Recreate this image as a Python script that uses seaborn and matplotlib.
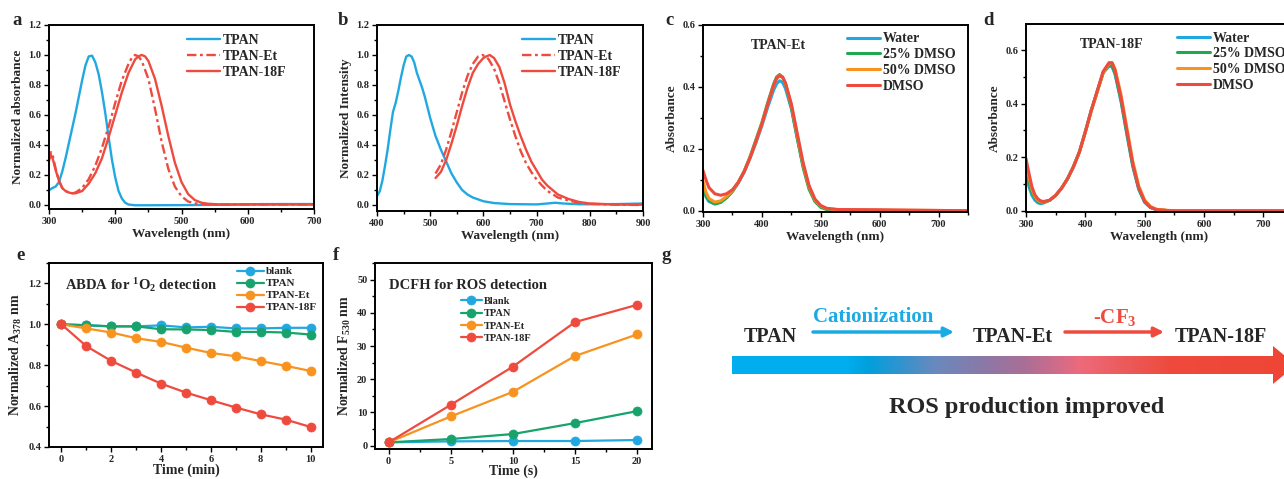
import numpy as np
import matplotlib
matplotlib.use('Agg')
import matplotlib.pyplot as plt
from matplotlib.colors import LinearSegmentedColormap
from matplotlib.patches import Polygon
from matplotlib.ticker import MultipleLocator
import seaborn as sns

W, H = 1284, 479

BLUE = '#22A8E1'
RED = '#EE4B3E'
GREEN = '#17A36B'
GREEN_C = '#1FA84E'
ORANGE = '#F7931E'

# ---------------- a: normalized absorbance ----------------
wl_a_tpan = [300, 305, 310, 315, 320, 325, 330, 335, 340, 345, 350, 355, 360, 365, 370, 375, 380,
             385, 390, 395, 400, 405, 410, 415, 420, 430, 450, 500, 550, 600, 650, 700]
abs_a_tpan = [0.095, 0.11, 0.12, 0.15, 0.22, 0.31, 0.41, 0.51, 0.61, 0.72, 0.83, 0.93, 0.99, 0.995,
              0.95, 0.87, 0.75, 0.61, 0.45, 0.30, 0.18, 0.09, 0.04, 0.012, 0.0, -0.005, -0.005,
              -0.004, -0.002, 0.002, 0.003, 0.003]
wl_a_et = [300, 303, 306, 310, 315, 320, 325, 330, 335, 340, 350, 360, 370, 380, 390, 400, 410, 420,
           425, 430, 435, 440, 450, 460, 470, 480, 490, 500, 510, 520, 540, 600, 700]
abs_a_et = [0.29, 0.35, 0.32, 0.24, 0.16, 0.11, 0.09, 0.08, 0.075, 0.08, 0.11, 0.17, 0.26, 0.38, 0.52,
            0.68, 0.83, 0.94, 0.98, 1.0, 0.99, 0.96, 0.84, 0.64, 0.42, 0.24, 0.12, 0.055, 0.02, 0.008,
            0.0, 0.0, 0.0]
wl_a_18f = [300, 303, 306, 310, 315, 320, 325, 330, 335, 340, 350, 360, 370, 380, 390, 400, 410, 420,
            430, 435, 440, 445, 450, 460, 470, 480, 490, 500, 510, 520, 530, 540, 560, 600, 700]
abs_a_18f = [0.31, 0.33, 0.30, 0.23, 0.16, 0.11, 0.09, 0.08, 0.075, 0.075, 0.09, 0.14, 0.21, 0.31,
             0.45, 0.60, 0.75, 0.88, 0.97, 0.99, 1.0, 0.99, 0.96, 0.84, 0.66, 0.46, 0.28, 0.15, 0.07,
             0.03, 0.012, 0.005, 0.0, 0.0, 0.0]

# ---------------- b: normalized emission ----------------
wl_b_tpan = [400, 405, 410, 415, 420, 425, 430, 435, 440, 445, 450, 455, 460, 465, 470, 475, 480, 485,
             490, 500, 510, 520, 530, 540, 550, 560, 570, 580, 600, 620, 650, 700, 720, 735, 750, 780,
             800, 850, 900]
em_b_tpan = [0.06, 0.09, 0.16, 0.26, 0.37, 0.50, 0.62, 0.68, 0.76, 0.85, 0.93, 0.99, 1.0, 0.99, 0.95,
             0.88, 0.83, 0.78, 0.72, 0.58, 0.46, 0.37, 0.29, 0.21, 0.15, 0.10, 0.07, 0.05, 0.025,
             0.013, 0.006, 0.004, 0.01, 0.015, 0.01, 0.005, 0.005, 0.006, 0.01]
wl_b_et = [510, 520, 530, 540, 550, 560, 570, 580, 590, 598, 605, 610, 620, 630, 640, 650, 660, 670,
           680, 690, 700, 710, 720, 740, 760, 780, 800, 850, 900]
em_b_et = [0.21, 0.27, 0.37, 0.49, 0.62, 0.75, 0.86, 0.94, 0.99, 1.0, 0.99, 0.97, 0.91, 0.81, 0.69,
           0.57, 0.46, 0.36, 0.28, 0.22, 0.17, 0.13, 0.095, 0.05, 0.03, 0.015, 0.008, 0.002, 0.0]
wl_b_18f = [510, 520, 530, 540, 550, 560, 570, 580, 590, 600, 605, 612, 620, 630, 640, 650, 660, 670,
            680, 690, 700, 710, 720, 740, 760, 780, 800, 850, 900]
em_b_18f = [0.18, 0.22, 0.30, 0.41, 0.53, 0.66, 0.78, 0.88, 0.94, 0.98, 0.99, 1.0, 0.98, 0.92, 0.81,
            0.67, 0.56, 0.46, 0.37, 0.29, 0.23, 0.17, 0.13, 0.07, 0.04, 0.02, 0.01, 0.003, 0.002]

# ---------------- c: TPAN-Et in solvents ----------------
wl_c = [300, 305, 310, 320, 330, 340, 350, 360, 370, 380, 390, 400, 410, 420, 425, 430, 435, 440,
        450, 460, 470, 480, 490, 500, 510, 530, 600, 700, 750]
c_water = [0.075, 0.045, 0.03, 0.022, 0.028, 0.042, 0.062, 0.09, 0.125, 0.17, 0.22, 0.275, 0.335,
           0.39, 0.41, 0.42, 0.415, 0.395, 0.33, 0.235, 0.145, 0.075, 0.033, 0.013, 0.005, 0.002,
           0.001, 0.0, 0.0]
c_dmso25 = [0.08, 0.05, 0.033, 0.022, 0.027, 0.042, 0.063, 0.092, 0.128, 0.175, 0.23, 0.285, 0.35,
            0.41, 0.432, 0.44, 0.432, 0.41, 0.335, 0.235, 0.14, 0.07, 0.03, 0.011, 0.004, 0.001,
            0.001, 0.0, 0.0]
c_dmso50 = [0.095, 0.06, 0.04, 0.028, 0.032, 0.046, 0.065, 0.092, 0.127, 0.172, 0.225, 0.28, 0.345,
            0.405, 0.428, 0.437, 0.432, 0.412, 0.342, 0.245, 0.15, 0.078, 0.035, 0.015, 0.007, 0.003,
            0.002, 0.001, 0.0]
c_dmso = [0.13, 0.1, 0.075, 0.055, 0.05, 0.055, 0.068, 0.092, 0.127, 0.172, 0.225, 0.28, 0.345,
          0.405, 0.428, 0.436, 0.432, 0.413, 0.345, 0.25, 0.155, 0.082, 0.038, 0.017, 0.008, 0.004,
          0.003, 0.001, 0.0]

# ---------------- d: TPAN-18F in solvents ----------------
wl_d = [300, 305, 310, 315, 320, 325, 330, 340, 350, 360, 370, 380, 390, 400, 410, 420, 430, 440,
        445, 450, 460, 470, 480, 490, 500, 510, 520, 540, 560, 650, 750]
d_water = [0.14, 0.09, 0.058, 0.04, 0.03, 0.027, 0.03, 0.04, 0.058, 0.085, 0.12, 0.165, 0.22, 0.295,
           0.375, 0.445, 0.515, 0.54, 0.538, 0.51, 0.41, 0.285, 0.165, 0.08, 0.032, 0.012, 0.004,
           0.001, 0.0, 0.0, 0.0]
d_dmso25 = [0.16, 0.11, 0.07, 0.048, 0.036, 0.031, 0.032, 0.04, 0.058, 0.085, 0.12, 0.165, 0.22,
            0.295, 0.375, 0.445, 0.515, 0.545, 0.543, 0.515, 0.415, 0.29, 0.17, 0.083, 0.034, 0.013,
            0.005, 0.001, 0.0, 0.0, 0.0]
d_dmso50 = [0.18, 0.125, 0.08, 0.054, 0.04, 0.034, 0.034, 0.04, 0.058, 0.085, 0.12, 0.165, 0.22,
            0.293, 0.372, 0.443, 0.515, 0.55, 0.553, 0.53, 0.435, 0.31, 0.185, 0.093, 0.04, 0.016,
            0.006, 0.002, 0.0, 0.0, 0.0]
d_dmso = [0.195, 0.14, 0.09, 0.06, 0.045, 0.037, 0.035, 0.04, 0.058, 0.085, 0.12, 0.165, 0.22,
          0.295, 0.375, 0.447, 0.52, 0.553, 0.552, 0.525, 0.425, 0.30, 0.175, 0.087, 0.036, 0.014,
          0.005, 0.001, 0.0, 0.0, 0.0]

# ---------------- e: ABDA ----------------
t_e = [0, 1, 2, 3, 4, 5, 6, 7, 8, 9, 10]
e_blank = [1.0, 0.995, 0.99, 0.99, 0.995, 0.985, 0.988, 0.98, 0.98, 0.983, 0.983]
e_tpan = [1.0, 0.996, 0.99, 0.99, 0.976, 0.975, 0.972, 0.963, 0.963, 0.96, 0.95]
e_et = [1.0, 0.98, 0.96, 0.932, 0.914, 0.886, 0.86, 0.844, 0.82, 0.797, 0.772]
e_18f = [1.0, 0.893, 0.821, 0.764, 0.71, 0.666, 0.629, 0.593, 0.56, 0.534, 0.498]

# ---------------- f: DCFH ----------------
t_f = [0, 5, 10, 15, 20]
f_blank = [1.0, 1.3, 1.4, 1.4, 1.7]
f_tpan = [1.0, 2.0, 3.5, 6.8, 10.4]
f_et = [1.0, 8.8, 16.2, 27.0, 33.5]
f_18f = [1.0, 12.3, 23.8, 37.2, 42.4]

sns.set_theme(style='ticks')
plt.rcParams['font.family'] = ['Liberation Serif', 'DejaVu Serif']
plt.rcParams['font.weight'] = 'bold'
plt.rcParams['axes.labelweight'] = 'bold'
plt.rcParams['mathtext.fontset'] = 'custom'
plt.rcParams['mathtext.rm'] = 'Liberation Serif:bold'
plt.rcParams['mathtext.bf'] = 'Liberation Serif:bold'
plt.rcParams['mathtext.it'] = 'Liberation Serif:bold:italic'


def box(l, t, r, b):
    return [l / W, 1 - b / H, (r - l) / W, (b - t) / H]


def style(ax, xmaj, ymaj, xlim, ylim):
    ax.set_xlim(*xlim)
    ax.set_ylim(*ylim)
    ax.xaxis.set_major_locator(MultipleLocator(xmaj))
    ax.xaxis.set_minor_locator(MultipleLocator(xmaj / 2))
    ax.yaxis.set_major_locator(MultipleLocator(ymaj))
    ax.yaxis.set_minor_locator(MultipleLocator(ymaj / 2))
    ax.tick_params(which='both', direction='out', width=1.0, labelsize=7.5, pad=2,
                   top=False, right=False, color='black')
    ax.tick_params(which='major', length=3.5)
    ax.tick_params(which='minor', length=2)
    for s in ax.spines.values():
        s.set_visible(True)
        s.set_linewidth(1.4)
        s.set_color('black')


def legend(ax, x, y, size, hl=2.4, sp=0.2):
    ax.legend(loc='upper left', bbox_to_anchor=(x, y), frameon=False, borderaxespad=0, borderpad=0,
              handlelength=hl, handletextpad=0.2, labelspacing=sp,
              prop={'weight': 'bold', 'size': size})


fig = plt.figure(figsize=(W / 100, H / 100), dpi=100)

# a
ax = fig.add_axes(box(49, 25, 314, 209))
sns.lineplot(x=wl_a_tpan, y=abs_a_tpan, ax=ax, color=BLUE, lw=1.7, label='TPAN', sort=False)
sns.lineplot(x=wl_a_et, y=abs_a_et, ax=ax, color=RED, lw=1.7, label='TPAN-Et', sort=False,
             linestyle=(0, (4, 1.5, 1.2, 1.5)))
sns.lineplot(x=wl_a_18f, y=abs_a_18f, ax=ax, color=RED, lw=1.7, label='TPAN-18F', sort=False)
style(ax, 100, 0.2, (300, 700), (-0.03, 1.2))
ax.set_xlabel('Wavelength (nm)', fontsize=9.5, labelpad=2)
ax.set_ylabel('Normalized absorbance', fontsize=9.5, labelpad=3)
legend(ax, 0.52, 0.95, 10)

# b
ax = fig.add_axes(box(377, 25, 643, 211))
sns.lineplot(x=wl_b_tpan, y=em_b_tpan, ax=ax, color=BLUE, lw=1.7, label='TPAN', sort=False)
sns.lineplot(x=wl_b_et, y=em_b_et, ax=ax, color=RED, lw=1.7, label='TPAN-Et', sort=False,
             linestyle=(0, (4, 1.5, 1.2, 1.5)))
sns.lineplot(x=wl_b_18f, y=em_b_18f, ax=ax, color=RED, lw=1.7, label='TPAN-18F', sort=False)
style(ax, 100, 0.2, (400, 900), (-0.04, 1.2))
ax.set_xlabel('Wavelength (nm)', fontsize=9.5, labelpad=2)
ax.set_ylabel('Normalized Intensity', fontsize=9.5, labelpad=3)
legend(ax, 0.545, 0.95, 10)

# c and d
for rect, wl, ys, lim, name, lx, tx in [
        (box(703, 25, 968, 212), wl_c, [c_water, c_dmso25, c_dmso50, c_dmso], (-0.004, 0.6),
         'TPAN-Et', 0.543, 0.283),
        (box(1026, 24, 1293, 212), wl_d, [d_water, d_dmso25, d_dmso50, d_dmso], (-0.004, 0.697),
         'TPAN-18F', 0.566, 0.319)]:
    ax = fig.add_axes(rect)
    for yv, col, lab in zip(ys, [BLUE, GREEN_C, ORANGE, RED],
                            ['Water', '25% DMSO', '50% DMSO', 'DMSO']):
        sns.lineplot(x=wl, y=yv, ax=ax, color=col, lw=2.2, label=lab, sort=False)
    style(ax, 100, 0.2, (300, 750), lim)
    ax.set_xlabel('Wavelength (nm)', fontsize=9.5, labelpad=2)
    ax.set_ylabel('Absorbance', fontsize=9.5, labelpad=3)
    ax.text(tx, 0.89, name, transform=ax.transAxes, ha='center', va='center', fontsize=10)
    legend(ax, lx, 0.96, 10)

# e
ax = fig.add_axes(box(49, 263, 323, 447))
for yv, col, lab in zip([e_blank, e_tpan, e_et, e_18f], [BLUE, GREEN, ORANGE, RED],
                        ['blank', 'TPAN', 'TPAN-Et', 'TPAN-18F']):
    sns.lineplot(x=t_e, y=yv, ax=ax, color=col, lw=1.6, label=lab, marker='o', markersize=6.5,
                 markeredgecolor=col, markeredgewidth=0.5, sort=False)
style(ax, 2, 0.2, (-0.5, 10.5), (0.4, 1.3))
ax.set_xlabel('Time (min)', fontsize=10, labelpad=0)
ax.set_ylabel(r'Normalized A$_{\mathbf{378}}$ nm', fontsize=10, labelpad=3)
ax.text(0.06, 0.88, r'ABDA for $^{\mathbf{1}}$O$_{\mathbf{2}}$ detection', transform=ax.transAxes,
        ha='left', va='center', fontsize=10.5)
legend(ax, 0.686, 0.98, 8, hl=2.4, sp=0.2)

# f
ax = fig.add_axes(box(375, 263, 652, 449))
for yv, col, lab in zip([f_blank, f_tpan, f_et, f_18f], [BLUE, GREEN, ORANGE, RED],
                        ['Blank', 'TPAN', 'TPAN-Et', 'TPAN-18F']):
    sns.lineplot(x=t_f, y=yv, ax=ax, color=col, lw=1.6, label=lab, marker='o', markersize=6.5,
                 markeredgecolor=col, markeredgewidth=0.5, sort=False)
style(ax, 5, 10, (-1.1, 21.2), (-1, 55))
ax.set_xlabel('Time (s)', fontsize=10, labelpad=-1)
ax.set_ylabel(r'Normalized F$_{\mathbf{530}}$ nm', fontsize=10, labelpad=3)
ax.text(0.05, 0.88, 'DCFH for ROS detection', transform=ax.transAxes, ha='left', va='center',
        fontsize=10.5)
legend(ax, 0.31, 0.82, 7.5, hl=2.0, sp=0.3)

# g and panel letters, drawn in pixel coordinates
ax0 = fig.add_axes([0, 0, 1, 1], zorder=-1)
ax0.patch.set_visible(False)
grad = np.linspace(0, 1, 256).reshape(1, -1)
cmap = LinearSegmentedColormap.from_list('ros', [
    (0.0, '#00AEEF'), (0.2, '#00AEEF'), (0.24, '#00A0DC'), (0.30, '#3393CE'), (0.36, '#6A89BD'),
    (0.45, '#8C78A6'), (0.52, '#AA6F96'), (0.58, '#D26C8A'), (0.62, '#EE6A7A'), (0.70, '#EB5A5A'),
    (0.78, '#EE4A3D'), (1.0, '#EE4535')])
im = ax0.imshow(grad, extent=(732, 1296, 385, 345), cmap=cmap, aspect='auto')
arrow = Polygon([(732, 356), (1273, 356), (1273, 346), (1296, 365), (1273, 384), (1273, 374),
                 (732, 374)], closed=True, facecolor='none', edgecolor='none')
ax0.add_patch(arrow)
im.set_clip_path(arrow)
ax0.set_xlim(0, W)
ax0.set_ylim(H, 0)
ax0.axis('off')

for x, lab in [(770, 'TPAN'), (1013, 'TPAN-Et'), (1221, 'TPAN-18F')]:
    ax0.text(x, 337, lab, ha='center', va='center', fontsize=14.5)
ax0.text(873, 317, 'Cationization', ha='center', va='center', fontsize=15, color='#1AABE4')
ax0.text(1115, 318, r'-CF$_{\mathbf{3}}$', ha='center', va='center', fontsize=15, color=RED)
ax0.annotate('', xy=(954, 332), xytext=(813, 332),
             arrowprops=dict(arrowstyle='-|>', color='#1AABE4', lw=2.5, mutation_scale=14,
                             shrinkA=0, shrinkB=0))
ax0.annotate('', xy=(1164, 332), xytext=(1065, 332),
             arrowprops=dict(arrowstyle='-|>', color=RED, lw=2.5, mutation_scale=14,
                             shrinkA=0, shrinkB=0))
ax0.text(1027, 407, 'ROS production improved', ha='center', va='center', fontsize=17.5)

for x, y, lab in [(17, 20, 'a'), (343, 20, 'b'), (670, 20, 'c'), (989, 20, 'd'),
                  (21, 256, 'e'), (336, 256, 'f'), (666, 256, 'g')]:
    ax0.text(x, y, lab, ha='center', va='center', fontsize=13.5)

fig.savefig('out.png', dpi=100)
